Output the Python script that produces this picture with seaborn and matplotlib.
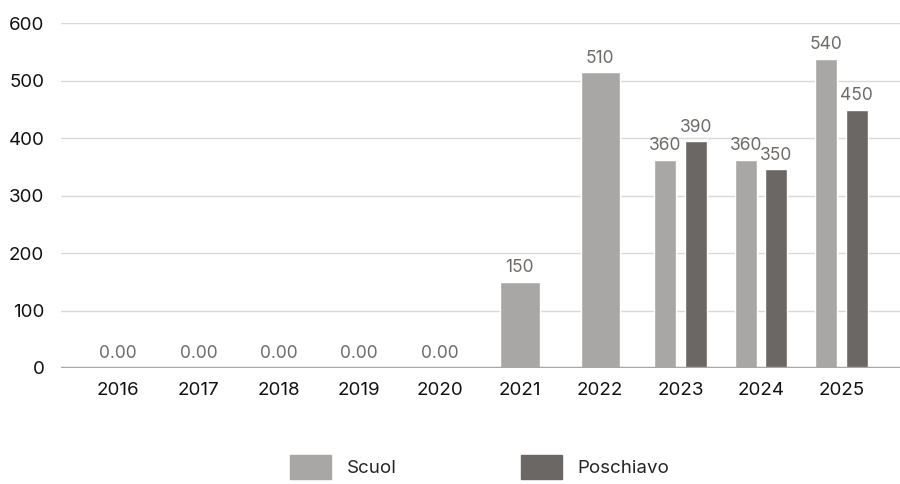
import pandas as pd
import matplotlib.pyplot as plt
import seaborn as sns
from matplotlib.patches import Patch

# data
years = ["2016", "2017", "2018", "2019", "2020", "2021", "2022", "2023", "2024", "2025"]
scuol_only_years = ["2016", "2017", "2018", "2019", "2020", "2021", "2022"]
scuol_only_values = [0, 0, 0, 0, 0, 150, 515]
scuol_only_labels = ["0.00", "0.00", "0.00", "0.00", "0.00", "150", "510"]

both_years = ["2023", "2024", "2025"]
scuol_values = [362, 362, 538]
scuol_labels = ["360", "360", "540"]
poschiavo_values = [395, 346, 449]
poschiavo_labels = ["390", "350", "450"]

series = ["Scuol", "Poschiavo"]
colors = {"Scuol": "#a8a7a6", "Poschiavo": "#6b6764"}

single_df = pd.DataFrame({"year": scuol_only_years, "value": scuol_only_values})
pair_df = pd.DataFrame({
    "year": both_years * 2,
    "series": ["Scuol"] * 3 + ["Poschiavo"] * 3,
    "value": scuol_values + poschiavo_values,
})

sns.set_theme(style="white")
plt.rcParams["font.family"] = ["Inter", "DejaVu Sans"]

fig = plt.figure(figsize=(9, 4.84), dpi=100)
ax = fig.add_axes([61 / 900, 1 - 368 / 484, 1 - 61 / 900, (368 - 23.3) / 484])

# years with only Scuol -> one wide centred bar
sns.barplot(data=single_df, x="year", y="value", order=years, color=colors["Scuol"],
            width=0.49, errorbar=None, saturation=1, ax=ax)
# years with both series -> dodged pairs
sns.barplot(data=pair_df, x="year", y="value", hue="series", order=years,
            hue_order=series, palette=colors, width=0.76, gap=0.28, dodge=True,
            errorbar=None, saturation=1, legend=False, ax=ax)

label_sets = [scuol_only_labels, scuol_labels, poschiavo_labels]
for cont, labs in zip(ax.containers, label_sets):
    ax.bar_label(cont, labels=labs, padding=4, fontsize=12.5, color="#6e6b68")

ax.set_ylim(0, 600)
ax.set_xlim(-0.71, 9.73)
ax.set_yticks(range(0, 601, 100))
ax.yaxis.grid(True, color="#d9d9d9", linewidth=1)
ax.set_axisbelow(True)
ax.axhline(0, color="#a8a7a6", linewidth=2.5, zorder=3)
for s in ax.spines.values():
    s.set_visible(False)
ax.set_xlabel("")
ax.set_ylabel("")
ax.tick_params(axis="x", length=0, pad=10, labelsize=13.5, labelcolor="#111111")
ax.tick_params(axis="y", length=0, pad=12, labelsize=13.5, labelcolor="#111111")

handles = [Patch(color=colors[s]) for s in series]
fig.legend(handles, series, loc="center", bbox_to_anchor=(0.533, 0.035), ncol=2,
           frameon=False, fontsize=13.5, handlelength=2.2, handleheight=1.6,
           handletextpad=0.85, columnspacing=6.6)

fig.savefig("out.png", dpi=100)
